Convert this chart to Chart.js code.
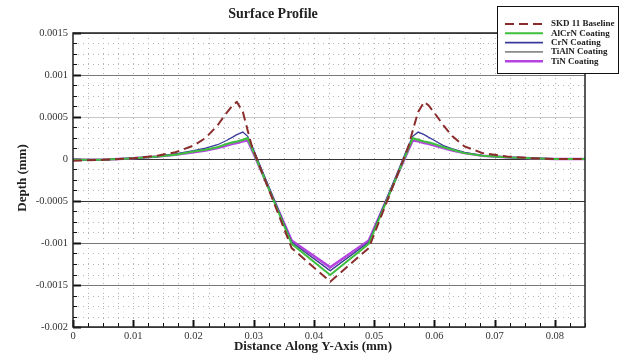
<!DOCTYPE html>
<html>
<head>
<meta charset="utf-8">
<script src="https://cdn.jsdelivr.net/npm/chart.js@4"></script>
<style>
  html, body { margin: 0; padding: 0; background: #fff; }
  #wrap { width: 622px; height: 359px; position: relative; }
</style>
</head>
<body>
<div id="wrap"><canvas id="profileChart" width="622" height="359"></canvas></div>
<script>
    // distance along Y-axis (mm)
    const xs = [0, 0.005, 0.01, 0.014, 0.017, 0.02, 0.022, 0.024, 0.0255, 0.0265, 0.0272, 0.0282, 0.029, 0.0297,
                0.0363, 0.0427, 0.0491,
                0.0557, 0.0564, 0.0573, 0.0583, 0.059, 0.06, 0.0615, 0.063, 0.065, 0.068, 0.072, 0.076, 0.08, 0.085];

    // depth (mm) per series
    const skd11 = [-0.00002, -0.00001, 0.00001, 0.00004, 0.00008, 0.00016, 0.00025, 0.0004, 0.00055, 0.00064, 0.00068, 0.00056, 0.00034, 0.00015,
                   -0.00106, -0.00146, -0.00106,
                   0.00015, 0.00034, 0.00056, 0.00068, 0.00064, 0.00055, 0.0004, 0.00027, 0.00015, 0.00007, 0.00003, 0.00001, 0, 0];
    const alcrn = [-0.00001, -0.00001, 0.00001, 0.00003, 0.00005, 0.00009, 0.00011, 0.00014, 0.00018, 0.0002, 0.00021, 0.00023, 0.00025, 0.00013,
                   -0.00101, -0.00138, -0.00101,
                   0.00013, 0.00025, 0.00023, 0.00021, 0.0002, 0.00018, 0.00014, 0.00011, 0.00007, 0.00004, 0.00002, 0.00001, 0, 0];
    const crn   = [-0.00001, -0.00001, 0.00001, 0.00003, 0.00006, 0.0001, 0.00013, 0.00017, 0.00022, 0.00026, 0.00029, 0.00032, 0.00027, 0.00016,
                   -0.00099, -0.00133, -0.00099,
                   0.00016, 0.00027, 0.00032, 0.00029, 0.00026, 0.00022, 0.00016, 0.00012, 0.00008, 0.00004, 0.00002, 0.00001, 0, 0];
    const tialn = [-0.00001, -0.00001, 0.00001, 0.00003, 0.00005, 0.00009, 0.00011, 0.00014, 0.00017, 0.00019, 0.0002, 0.00022, 0.00024, 0.00012,
                   -0.00099, -0.00133, -0.00099,
                   0.00012, 0.00024, 0.00022, 0.0002, 0.00019, 0.00017, 0.00014, 0.00011, 0.00007, 0.00004, 0.00002, 0.00001, 0, 0];
    const tin   = [-0.00001, -0.00001, 0.00001, 0.00003, 0.00005, 0.00008, 0.0001, 0.00013, 0.00016, 0.00018, 0.00019, 0.00021, 0.00022, 0.00011,
                   -0.00097, -0.00129, -0.00097,
                   0.00011, 0.00022, 0.00021, 0.00019, 0.00018, 0.00016, 0.00013, 0.0001, 0.00007, 0.00004, 0.00002, 0.00001, 0, 0];

    const seriesNames = ['SKD 11 Baseline', 'AlCrN Coating', 'CrN Coating', 'TiAlN Coating', 'TiN Coating'];
    const seriesData = [skd11, alcrn, crn, tialn, tin];
    const seriesColors = ['#8b2c2c', '#3fbf3f', '#3a3a9c', '#8a8a8a', '#b443e0'];
    const seriesWidths = [2, 2, 1.3, 1.3, 2.5];

    const xMajor = 0.01, xMinor = 0.0025;
    const yMajor = 0.0005, yMinor = 0.000125;
    const SERIF = '"Liberation Serif", "DejaVu Serif", serif';

    function isMult(v, step) {
        const r = v / step;
        return Math.abs(r - Math.round(r)) < 1e-6;
    }

    // grid, tick marks and frame like the original plot
    const gridPlugin = {
        id: 'gridPlugin',
        beforeDatasetsDraw(chart) {
            const {ctx, chartArea: a, scales: {x, y}} = chart;
            ctx.save();
            // dotted minor grid
            ctx.strokeStyle = '#b4b4b4';
            ctx.lineWidth = 1;
            ctx.setLineDash([1, 4]);
            for (let v = x.min + xMinor; v < x.max - 1e-9; v += xMinor) {
                const px = Math.round(x.getPixelForValue(v)) + 0.5;
                ctx.beginPath(); ctx.moveTo(px, a.top); ctx.lineTo(px, a.bottom); ctx.stroke();
            }
            for (let v = y.min; v <= y.max + 1e-9; v += yMinor) {
                if (isMult(v, yMajor)) continue;
                const py = Math.round(y.getPixelForValue(v)) + 0.5;
                ctx.beginPath(); ctx.moveTo(a.left, py); ctx.lineTo(a.right, py); ctx.stroke();
            }
            ctx.setLineDash([]);
            // solid major horizontal lines
            for (let v = y.min; v <= y.max + 1e-9; v += yMajor) {
                const py = Math.round(y.getPixelForValue(v)) + 0.5;
                const r = Math.round(v / yMajor);
                ctx.strokeStyle = (r === 1) ? '#c8c8c8' : (r === 0 || r === -1) ? '#333' : '#777';
                ctx.lineWidth = 1;
                ctx.beginPath(); ctx.moveTo(a.left, py); ctx.lineTo(a.right, py); ctx.stroke();
            }
            // tick marks (inside)
            ctx.strokeStyle = '#111';
            for (let v = x.min; v <= x.max + 1e-9; v += xMinor) {
                const px = Math.round(x.getPixelForValue(v)) + 0.5;
                const major = isMult(v, xMajor);
                ctx.lineWidth = major ? 2 : 1;
                ctx.beginPath(); ctx.moveTo(px, a.bottom); ctx.lineTo(px, a.bottom - (major ? 7 : 4)); ctx.stroke();
            }
            for (let v = y.min; v <= y.max + 1e-9; v += yMinor) {
                const py = Math.round(y.getPixelForValue(v)) + 0.5;
                const major = isMult(v, yMajor);
                ctx.lineWidth = major ? 2 : 1;
                ctx.beginPath(); ctx.moveTo(a.left, py); ctx.lineTo(a.left + (major ? 8 : 4), py); ctx.stroke();
            }
            ctx.restore();
        },
        afterDatasetsDraw(chart) {
            const {ctx, chartArea: a} = chart;
            ctx.save();
            ctx.strokeStyle = '#222';
            ctx.lineWidth = 1.5;
            ctx.strokeRect(a.left, a.top, a.right - a.left, a.bottom - a.top);
            ctx.restore();
        }
    };

    // titles and the boxed legend in the top right corner
    const labelPlugin = {
        id: 'labelPlugin',
        afterDraw(chart) {
            const ctx = chart.ctx;
            ctx.save();
            ctx.fillStyle = '#222';
            ctx.textAlign = 'center';
            ctx.textBaseline = 'middle';
            ctx.font = 'bold 14px ' + SERIF;
            ctx.fillText('Surface Profile', 273, 14);
            ctx.font = 'bold 13px ' + SERIF;
            ctx.fillText('Distance Along Y-Axis (mm)', 313, 347);
            ctx.translate(23, 178);
            ctx.rotate(-Math.PI / 2);
            ctx.fillText('Depth (mm)', 0, 0);
            ctx.restore();

            // legend
            ctx.save();
            const bx = 497, by = 6, bw = 121, bh = 67;
            ctx.fillStyle = '#fff';
            ctx.fillRect(bx, by, bw, bh);
            ctx.strokeStyle = '#111';
            ctx.lineWidth = 1;
            ctx.strokeRect(bx + 0.5, by + 0.5, bw, bh);
            ctx.font = 'bold 9px ' + SERIF;
            ctx.textAlign = 'left';
            ctx.textBaseline = 'middle';
            chart.data.datasets.forEach((ds, i) => {
                const ry = 24 + i * 9.3;
                ctx.strokeStyle = ds.borderColor;
                ctx.lineWidth = Math.max(ds.borderWidth, 1.6);
                ctx.setLineDash(ds.borderDash || []);
                ctx.beginPath(); ctx.moveTo(505, ry); ctx.lineTo(543, ry); ctx.stroke();
                ctx.setLineDash([]);
                ctx.fillStyle = '#222';
                ctx.fillText(ds.label, 551, ry);
            });
            ctx.restore();
        }
    };

    const datasets = seriesNames.map((name, i) => ({
        label: name,
        data: xs.map((x, j) => ({x: x, y: seriesData[i][j]})),
        borderColor: seriesColors[i],
        backgroundColor: seriesColors[i],
        borderWidth: seriesWidths[i],
        borderDash: i === 0 ? [9, 5] : [],
        pointRadius: 0,
        tension: 0,
        fill: false
    }));

    new Chart(document.getElementById('profileChart').getContext('2d'), {
        type: 'line',
        data: { datasets: datasets },
        plugins: [gridPlugin, labelPlugin],
        options: {
            responsive: false,
            animation: false,
            events: [],
            layout: { padding: { top: 33, right: 37, left: 0, bottom: 0 } },
            plugins: { legend: { display: false }, title: { display: false }, tooltip: { enabled: false } },
            scales: {
                x: {
                    type: 'linear',
                    min: 0, max: 0.085,
                    afterFit: s => { s.height = 32; },
                    grid: { display: false, drawTicks: false, tickLength: 0 },
                    border: { display: false },
                    ticks: {
                        stepSize: xMinor, maxTicksLimit: 1000, autoSkip: false, maxRotation: 0,
                        padding: 3, color: '#333', font: { family: SERIF, size: 10.5 },
                        callback: v => isMult(v, xMajor) ? String(parseFloat(v.toFixed(3))) : ''
                    }
                },
                y: {
                    min: -0.002, max: 0.0015,
                    afterFit: s => { s.width = 73; },
                    grid: { display: false, drawTicks: false, tickLength: 0 },
                    border: { display: false },
                    ticks: {
                        stepSize: yMinor, maxTicksLimit: 1000, autoSkip: false,
                        padding: 5, color: '#333', font: { family: SERIF, size: 10.5 },
                        callback: v => isMult(v, yMajor) ? String(parseFloat(v.toFixed(4))) : ''
                    }
                }
            }
        }
    });
</script>
</body>
</html>
